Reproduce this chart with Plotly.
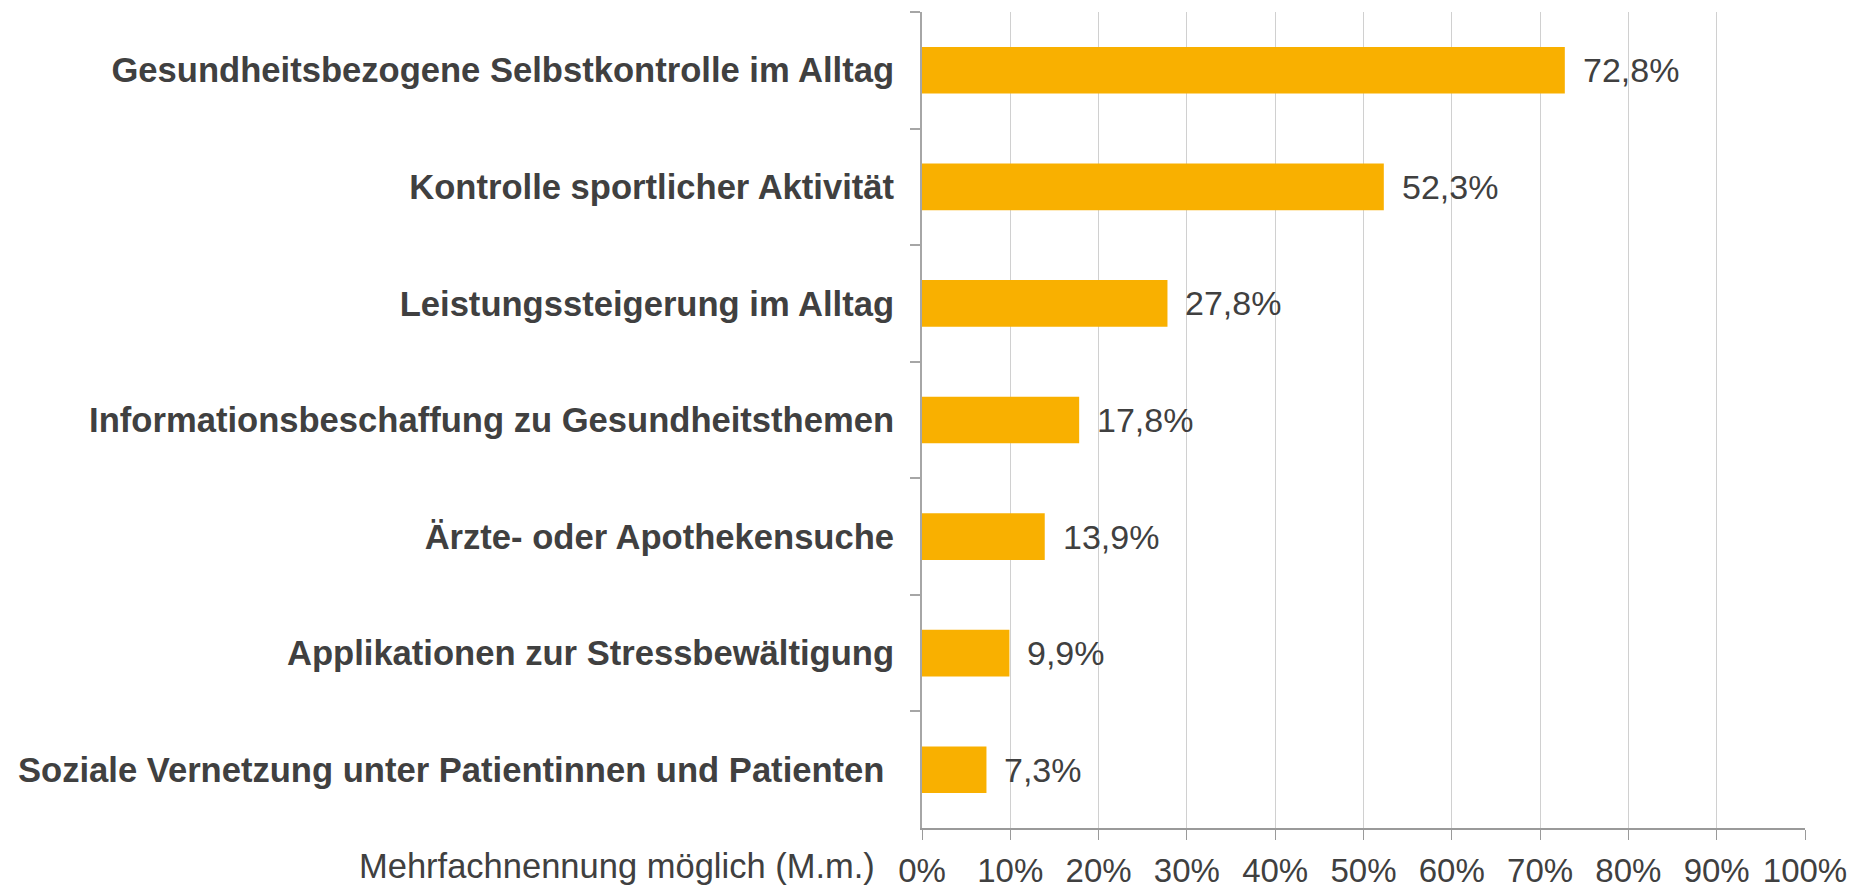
import plotly.graph_objects as go

categories = [
    "Gesundheitsbezogene Selbstkontrolle im Alltag",
    "Kontrolle sportlicher Aktivität",
    "Leistungssteigerung im Alltag",
    "Informationsbeschaffung zu Gesundheitsthemen",
    "Ärzte- oder Apothekensuche",
    "Applikationen zur Stressbewältigung",
    "Soziale Vernetzung unter Patientinnen und Patienten\u00a0",
]
values = [72.8, 52.3, 27.8, 17.8, 13.9, 9.9, 7.3]
tick_vals = [0, 10, 20, 30, 40, 50, 60, 70, 80, 90, 100]
tick_text = [f"{v}%" for v in tick_vals]
axis_note = "Mehrfachnennung möglich (M.m.)"

W, H = 1867, 888
L, R, T, B = 922, 62, 12, 60
TEXT = "#404040"
FONT = "Liberation Sans, Arial, sans-serif"
plot_w = W - L - R
plot_h = H - T - B

fig = go.Figure()
fig.add_trace(go.Bar(
    x=values, y=categories, orientation="h",
    marker=dict(color="#F9B000", line=dict(width=0)),
    width=0.4, hoverinfo="skip",
))

annotations = []
for c, v in zip(categories, values):
    annotations.append(dict(
        x=v, y=c, xref="x", yref="y", text=f"{v:.1f}%".replace(".", ","),
        showarrow=False, xanchor="left", yanchor="middle", xshift=16,
        font=dict(family=FONT, size=34, color=TEXT),
    ))
annotations.append(dict(
    x=(877 - L) / plot_w, y=-(866 - (H - B)) / plot_h, xref="paper", yref="paper",
    text=axis_note, showarrow=False, xanchor="right", yanchor="middle",
    font=dict(family=FONT, size=34.5, color=TEXT),
))

fig.update_layout(
    width=W, height=H,
    margin=dict(l=L, r=R, t=T, b=B, pad=0, autoexpand=False),
    paper_bgcolor="white", plot_bgcolor="white",
    showlegend=False,
    annotations=annotations,
    xaxis=dict(
        range=[0, 100], tickvals=tick_vals, ticktext=tick_text,
        showgrid=True, gridcolor="#D0D0D0", gridwidth=1,
        showline=True, linecolor="#9A9A9A", linewidth=2,
        ticks="outside", ticklen=10, tickcolor="#9A9A9A",
        tickfont=dict(family=FONT, size=33, color=TEXT),
        ticklabelstandoff=2, automargin=False,
        zeroline=False, fixedrange=True,
    ),
    yaxis=dict(
        autorange="reversed", type="category",
        showline=True, linecolor="#A6A6A6", linewidth=2,
        ticks="outside", ticklen=10, tickcolor="#A6A6A6", tickwidth=2,
        tickson="boundaries", automargin=False,
        tickfont=dict(family=FONT, size=34.6, color=TEXT, weight="bold"),
        ticklabelstandoff=19,
        showgrid=False,
    ),
)

fig.write_html("out.html")
